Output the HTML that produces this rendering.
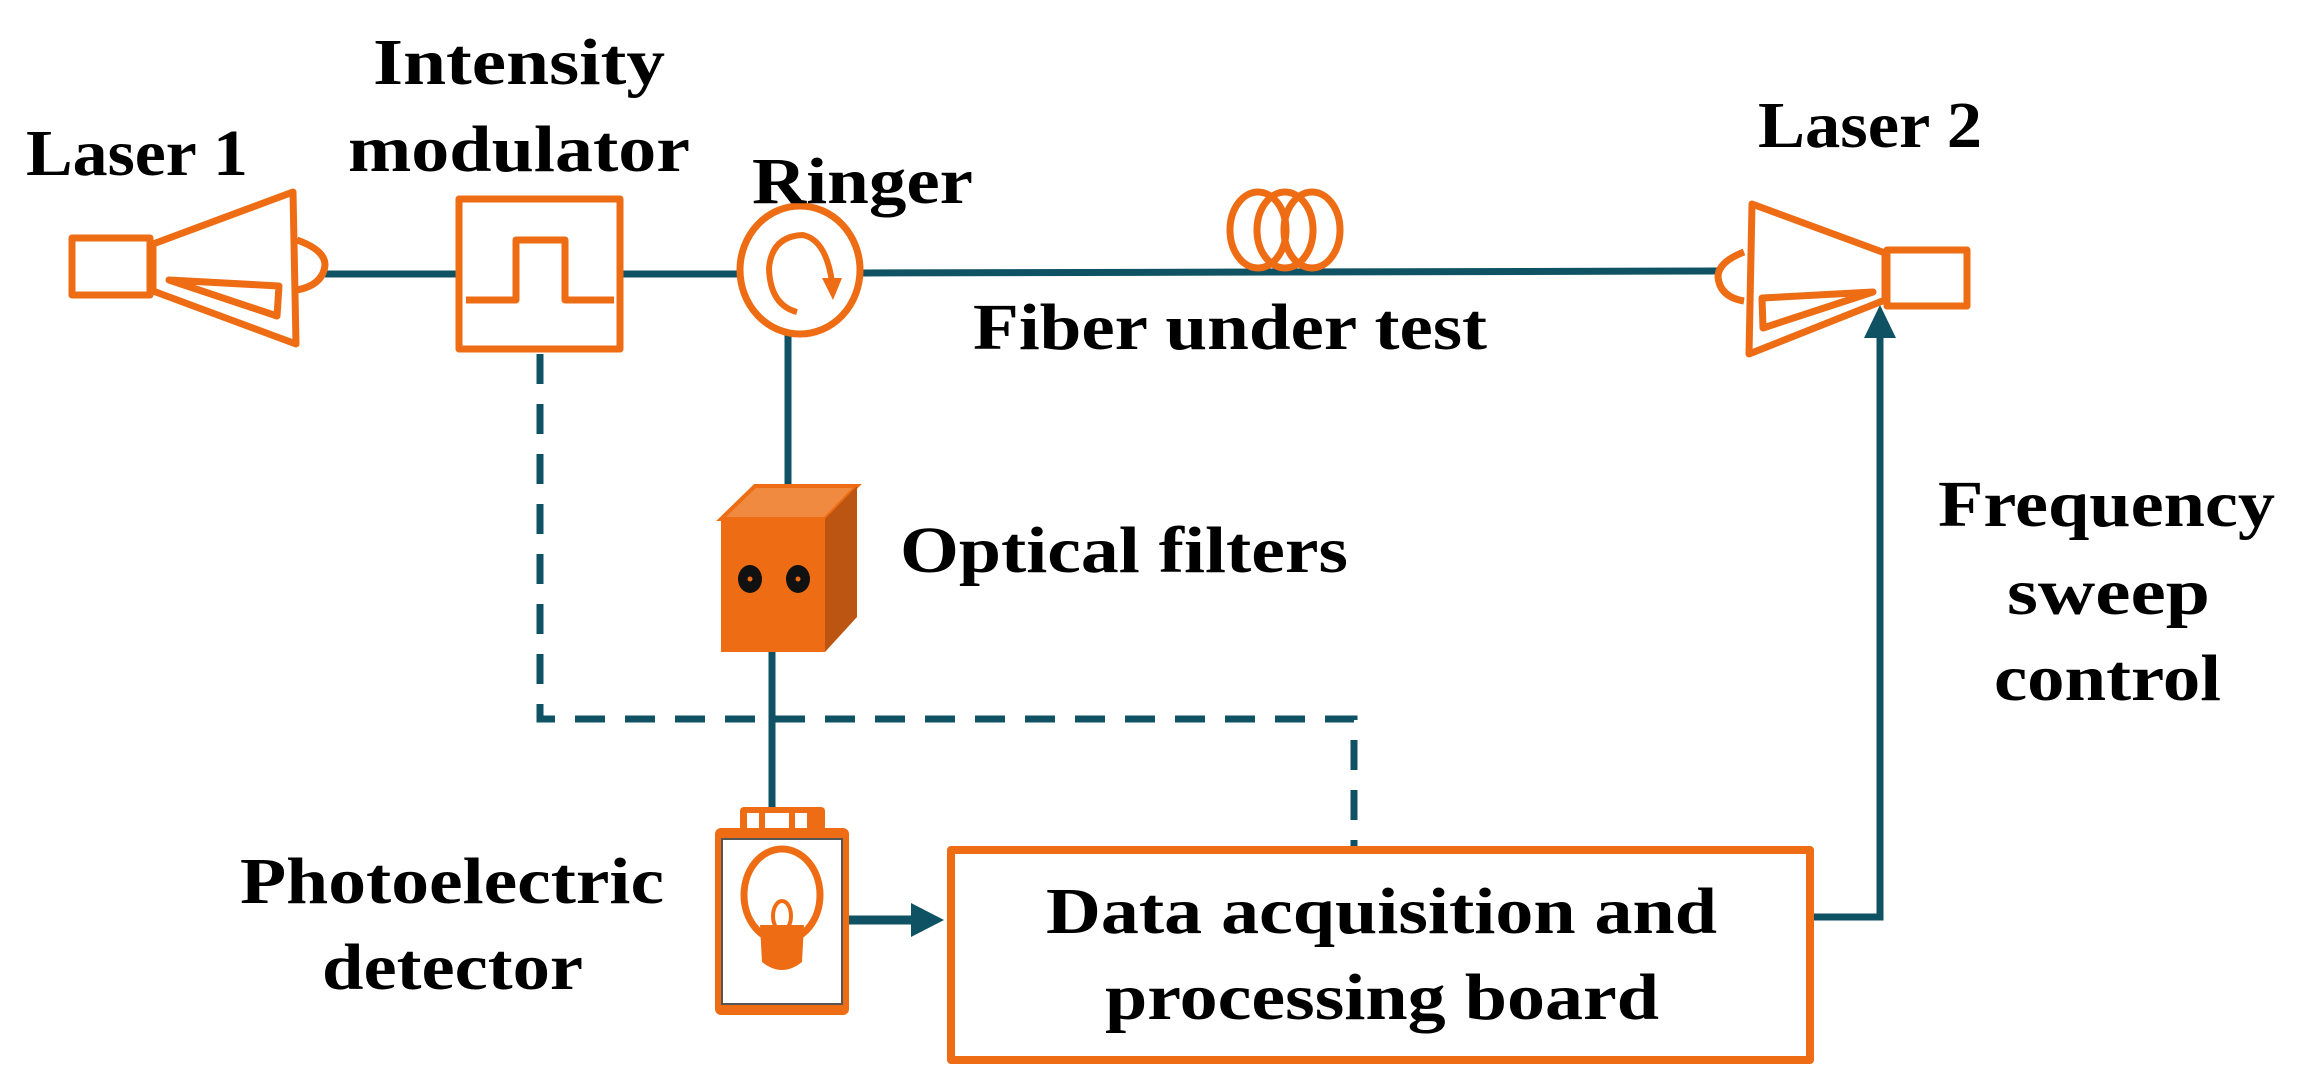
<!DOCTYPE html>
<html><head><meta charset="utf-8"><style>html,body{margin:0;padding:0;background:#fff}svg{display:block}</style></head><body>
<svg width="2299" height="1089" viewBox="0 0 2299 1089" xmlns="http://www.w3.org/2000/svg">
<g fill="none" stroke="#0F5264" stroke-width="7">
<line x1="325" y1="274" x2="460" y2="274"/>
<line x1="623" y1="274" x2="740" y2="274"/>
<line x1="862" y1="273" x2="1718" y2="271"/>
<line x1="788" y1="334" x2="788" y2="488"/>
<line x1="772" y1="652" x2="772" y2="808"/>
<polyline points="540,354 540,719 1354,719 1354,849" stroke-dasharray="30 20"/>
<line x1="849" y1="920" x2="915" y2="920" stroke-width="9"/>
<polyline points="1813,917 1880,917 1880,335"/>
</g>
<polygon points="911,903 944,920 911,937" fill="#0F5264"/>
<polygon points="1864,338 1880,305 1896,338" fill="#0F5264"/>
<g fill="none" stroke="#EE6C13" stroke-width="7" stroke-linejoin="round">
<rect x="72" y="238" width="78" height="57"/>
<polygon points="153,244 293,192 296,344 153,291"/>
<polygon points="169,280 279,286 277,316"/>
<path d="M297,240 Q325,250 325,265 Q323,285 297,290"/>
<rect x="459" y="199" width="161" height="150"/>
<polyline points="466,300 516,300 516,240 565,240 565,300 614,300"/>
<ellipse cx="800" cy="270" rx="60" ry="64"/>
<path d="M797,312 Q770,305 769,268 Q772,236 803,235 Q826,240 832,282" stroke-width="6"/>
<ellipse cx="1258" cy="230" rx="28" ry="38"/>
<ellipse cx="1285" cy="230" rx="28" ry="38"/>
<ellipse cx="1312" cy="230" rx="28" ry="38"/>
<rect x="1887" y="250" width="80" height="56"/>
<polygon points="1885,253 1752,204 1749,354 1885,300"/>
<polygon points="1873,292 1762,298 1763,328"/>
<path d="M1744,252 Q1718,262 1718,277 Q1720,297 1744,301"/>
<rect x="951" y="850" width="859" height="210" stroke-width="8"/>
</g>
<polygon points="822,278 842,278 833,300" fill="#EE6C13"/>
<polygon points="721,519 755,486 857,486 825,519" fill="#F08A40" stroke="#EE6C13" stroke-width="4"/>
<polygon points="825,519 857,486 857,617 825,652" fill="#BC5512"/>
<rect x="721" y="519" width="104" height="133" fill="#EE6C13"/>
<ellipse cx="750" cy="579" rx="12" ry="14" fill="#111"/><circle cx="750" cy="579" r="2.5" fill="#EE6C13"/>
<ellipse cx="798" cy="579" rx="12" ry="14" fill="#111"/><circle cx="798" cy="579" r="2.5" fill="#EE6C13"/>
<rect x="740" y="807" width="85" height="24" rx="4" fill="#EE6C13"/>
<rect x="747" y="813" width="12" height="16" fill="#fff"/><rect x="765" y="813" width="24" height="16" fill="#fff"/><rect x="795" y="813" width="12" height="16" fill="#fff"/>
<rect x="715" y="828" width="134" height="187" rx="6" fill="#EE6C13"/>
<rect x="722" y="839" width="120" height="165" fill="#fff" stroke="#555" stroke-width="2"/>
<ellipse cx="782" cy="895" rx="38" ry="46" fill="none" stroke="#EE6C13" stroke-width="7"/>
<path d="M760,925 L804,925 L802,962 Q782,978 762,962 Z" fill="#EE6C13"/>
<ellipse cx="782" cy="916" rx="9" ry="15" fill="none" stroke="#EE6C13" stroke-width="4"/>
<g font-family="'Liberation Serif',serif" font-weight="bold" font-size="66" fill="#000">
<text x="26" y="175" textLength="222" lengthAdjust="spacingAndGlyphs">Laser 1</text>
<text x="373" y="84" textLength="292" lengthAdjust="spacingAndGlyphs">Intensity</text>
<text x="348" y="171" textLength="342" lengthAdjust="spacingAndGlyphs">modulator</text>
<text x="752" y="203" textLength="221" lengthAdjust="spacingAndGlyphs">Ringer</text>
<text x="973" y="349" textLength="514" lengthAdjust="spacingAndGlyphs">Fiber under test</text>
<text x="1758" y="147" textLength="224" lengthAdjust="spacingAndGlyphs">Laser 2</text>
<text x="900" y="572" textLength="448" lengthAdjust="spacingAndGlyphs">Optical filters</text>
<text x="1938" y="526" textLength="337" lengthAdjust="spacingAndGlyphs">Frequency</text>
<text x="2007" y="614" textLength="203" lengthAdjust="spacingAndGlyphs">sweep</text>
<text x="1994" y="700" textLength="227" lengthAdjust="spacingAndGlyphs">control</text>
<text x="240" y="903" textLength="424" lengthAdjust="spacingAndGlyphs">Photoelectric</text>
<text x="322" y="989" textLength="261" lengthAdjust="spacingAndGlyphs">detector</text>
<text x="1046" y="933" textLength="671" lengthAdjust="spacingAndGlyphs">Data acquisition and</text>
<text x="1105" y="1019" textLength="554" lengthAdjust="spacingAndGlyphs">processing board</text>
</g>
</svg>
</body></html>
